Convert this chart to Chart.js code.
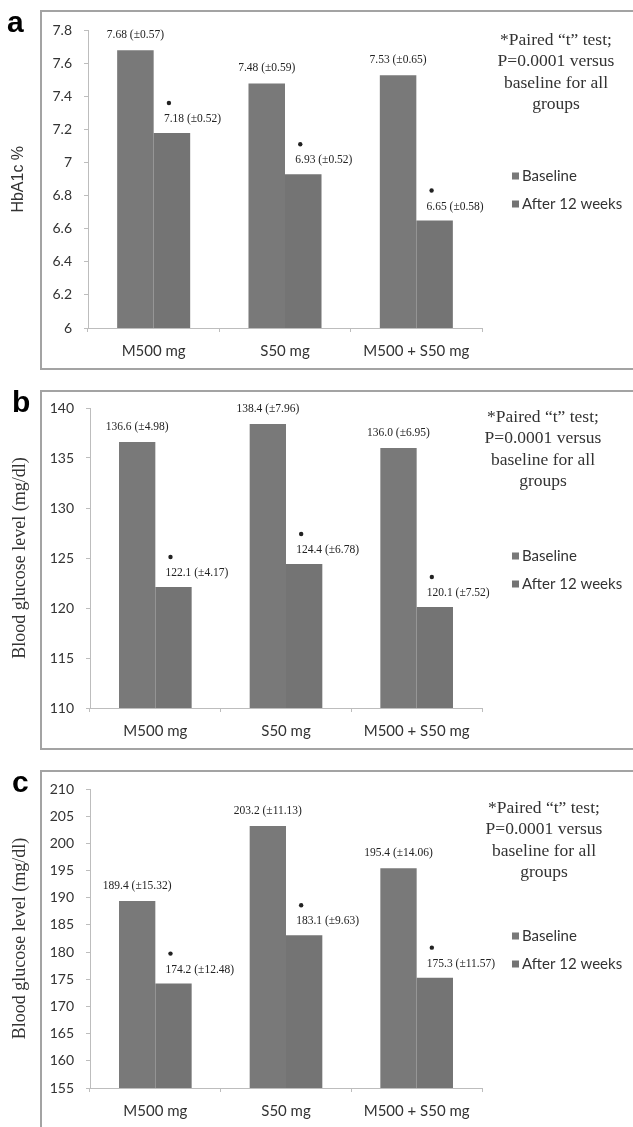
<!DOCTYPE html>
<html>
<head>
<meta charset="utf-8">
<script src="https://cdn.jsdelivr.net/npm/chart.js@4/dist/chart.umd.min.js"></script>
<style>
body { margin: 0; background: #fff; width: 633px; height: 1127px; position: relative; overflow: hidden; }
canvas { position: absolute; left: 0; }
</style>
</head>
<body>
<canvas id="chartA" width="633" height="380" style="top:0px"></canvas>
<canvas id="chartB" width="633" height="380" style="top:380px"></canvas>
<canvas id="chartC" width="633" height="380" style="top:760px"></canvas>
<script>
// groups and series
var groups = ['M500 mg', 'S50 mg', 'M500 + S50 mg'];
var seriesNames = ['Baseline', 'After 12 weeks'];

// a: HbA1c %
var hbaBase = [7.68, 7.48, 7.53];
var hbaBaseSd = [0.57, 0.59, 0.65];
var hbaAfter = [7.18, 6.93, 6.65];
var hbaAfterSd = [0.52, 0.52, 0.58];

// b: blood glucose (fasting)
var fbgBase = [136.6, 138.4, 136.0];
var fbgBaseSd = [4.98, 7.96, 6.95];
var fbgAfter = [122.1, 124.4, 120.1];
var fbgAfterSd = [4.17, 6.78, 7.52];

// c: blood glucose (post meal)
var ppgBase = [189.4, 203.2, 195.4];
var ppgBaseSd = [15.32, 11.13, 14.06];
var ppgAfter = [174.2, 183.1, 175.3];
var ppgAfterSd = [12.48, 9.63, 11.57];

var noteLines = ['*Paired \u201ct\u201d test;', 'P=0.0001 versus', 'baseline for all', 'groups'];

var barColors = ['#797979', '#747474'];
var axisColor = '#bdbdbd';
var textColor = '#333';

var annotate = {
  id: 'annotate',
  beforeDraw: function (chart, args, o) {
    var ctx = chart.ctx;
    ctx.save();
    ctx.fillStyle = '#fff';
    ctx.fillRect(0, 0, chart.width, chart.height);
    ctx.strokeStyle = '#a3a3a3';
    ctx.lineWidth = 2;
    ctx.strokeRect(41, 11, 700, 358);
    ctx.restore();
  },
  afterDatasetsDraw: function (chart, args, o) {
    var ctx = chart.ctx;
    ctx.save();
    ctx.font = '11.5px "Liberation Serif"';
    ctx.fillStyle = '#222';
    ctx.textBaseline = 'middle';
    var base = chart.getDatasetMeta(0).data;
    var after = chart.getDatasetMeta(1).data;
    base.forEach(function (bar, i) {
      ctx.textAlign = 'center';
      ctx.fillText(o.base[i].toFixed(o.dec) + ' (\u00b1' + o.baseSd[i].toFixed(2) + ')', bar.x, bar.y - 15);
    });
    after.forEach(function (bar, i) {
      ctx.textAlign = 'left';
      ctx.fillText(o.after[i].toFixed(o.dec) + ' (\u00b1' + o.afterSd[i].toFixed(2) + ')', bar.x - 8, bar.y - 14);
      ctx.beginPath();
      ctx.arc(bar.x - 3, bar.y - 30, 2.2, 0, Math.PI * 2);
      ctx.fill();
    });
    ctx.restore();
  },
  afterDraw: function (chart, args, o) {
    var ctx = chart.ctx;
    ctx.save();
    // panel letter
    ctx.fillStyle = '#000';
    ctx.font = 'bold 30px "Liberation Sans"';
    ctx.textAlign = 'left';
    ctx.textBaseline = 'alphabetic';
    ctx.fillText(o.letter, o.letterX, 32);
    // note
    ctx.fillStyle = textColor;
    ctx.font = '17.5px "Liberation Serif"';
    ctx.textAlign = 'center';
    ctx.textBaseline = 'middle';
    noteLines.forEach(function (t, i) {
      ctx.fillText(t, o.noteX, o.noteY + i * 21.5);
    });
    // legend
    ctx.font = '15px Lato';
    ctx.textAlign = 'left';
    chart.data.datasets.forEach(function (ds, i) {
      var y = 176 + i * 28;
      ctx.fillStyle = ds.backgroundColor;
      ctx.fillRect(512, y - 3.5, 7, 7);
      ctx.fillStyle = textColor;
      ctx.fillText(ds.label, 522, y);
    });
    ctx.restore();
  }
};

function makePanel(id, cfg) {
  return new Chart(id, {
    type: 'bar',
    data: {
      labels: groups,
      datasets: [{
        label: seriesNames[0],
        data: cfg.base,
        backgroundColor: barColors[0]
      }, {
        label: seriesNames[1],
        data: cfg.after,
        backgroundColor: barColors[1]
      }]
    },
    plugins: [annotate],
    options: {
      responsive: false,
      animation: false,
      events: [],
      layout: { padding: { top: cfg.top, right: 633 - 482, bottom: 12, left: 0 } },
      datasets: { bar: { categoryPercentage: 0.556, barPercentage: 1 } },
      plugins: {
        legend: { display: false },
        tooltip: { enabled: false },
        annotate: {
          letter: cfg.letter, letterX: cfg.letterX,
          noteX: cfg.noteX, noteY: cfg.noteY,
          base: cfg.base, baseSd: cfg.baseSd,
          after: cfg.after, afterSd: cfg.afterSd,
          dec: cfg.dec
        }
      },
      scales: {
        x: {
          grid: { drawOnChartArea: false, tickLength: 4, color: axisColor },
          border: { color: axisColor },
          ticks: { font: { family: 'Lato', size: 15 }, color: textColor, padding: 10 },
          afterFit: function (s) { s.height = 40; }
        },
        y: {
          min: cfg.min,
          max: cfg.max,
          ticks: {
            stepSize: cfg.step,
            font: { family: 'Lato', size: 14 },
            color: textColor,
            padding: 12,
            callback: function (v) { return String(Number(v.toFixed(2))); }
          },
          grid: { drawOnChartArea: false, tickLength: 4, color: axisColor },
          border: { color: axisColor },
          title: { display: true, text: cfg.title, font: cfg.titleFont, color: textColor, padding: { top: 9, bottom: 0 } },
          afterFit: function (s) { s.width = cfg.left; }
        }
      }
    }
  });
}

makePanel('chartA', {
  letter: 'a', letterX: 7, top: 30.5, left: 88,
  noteX: 556, noteY: 40,
  title: 'HbA1c %', titleFont: { family: 'Liberation Sans', size: 16 },
  min: 6, max: 7.8, step: 0.2, dec: 2,
  base: hbaBase, baseSd: hbaBaseSd, after: hbaAfter, afterSd: hbaAfterSd
});

makePanel('chartB', {
  letter: 'b', letterX: 12, top: 28, left: 90,
  noteX: 543, noteY: 37,
  title: 'Blood glucose level (mg/dl)', titleFont: { family: 'Liberation Serif', size: 18 },
  min: 110, max: 140, step: 5, dec: 1,
  base: fbgBase, baseSd: fbgBaseSd, after: fbgAfter, afterSd: fbgAfterSd
});

makePanel('chartC', {
  letter: 'c', letterX: 12, top: 29, left: 90,
  noteX: 544, noteY: 48,
  title: 'Blood glucose level (mg/dl)', titleFont: { family: 'Liberation Serif', size: 18 },
  min: 155, max: 210, step: 5, dec: 1,
  base: ppgBase, baseSd: ppgBaseSd, after: ppgAfter, afterSd: ppgAfterSd
});
</script>
</body>
</html>
